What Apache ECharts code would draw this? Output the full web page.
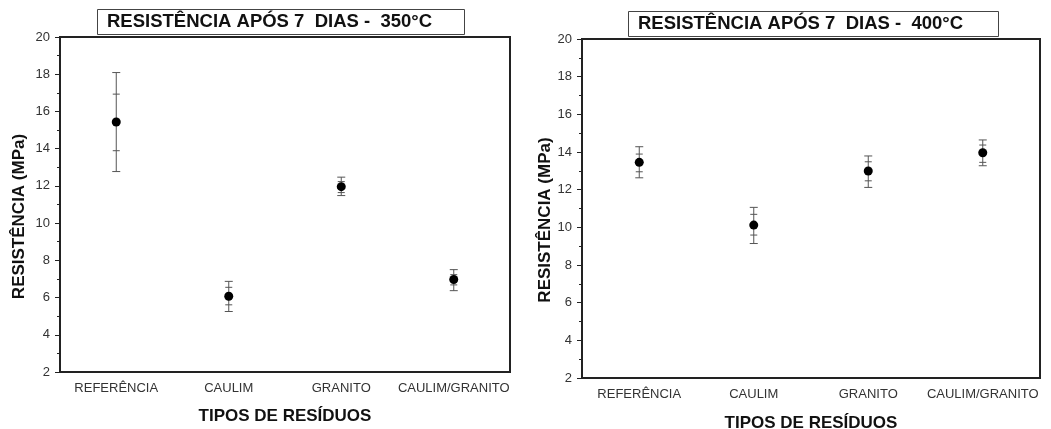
<!DOCTYPE html>
<html>
<head>
<meta charset="utf-8">
<script src="https://cdn.jsdelivr.net/npm/echarts@6/dist/echarts.min.js"></script>
<style>
html,body{margin:0;padding:0;background:#fff;}
#chart{width:1051px;height:429px;}
</style>
</head>
<body>
<div id="chart"></div>
<script>
// ---- data ----
const categories = ['REFERÊNCIA', 'CAULIM', 'GRANITO', 'CAULIM/GRANITO'];
const yTicks = { min: 2, max: 20, interval: 2 };

// 350 °C
const mean350 = [15.43, 6.07, 11.96, 6.97];
const innerLow350 = [13.89, 5.61, 11.64, 6.68];
const innerHigh350 = [16.93, 6.55, 12.23, 7.23];
const outerLow350 = [12.77, 5.25, 11.48, 6.37];
const outerHigh350 = [18.09, 6.87, 12.47, 7.50];

// 400 °C
const mean400 = [13.45, 10.12, 12.99, 13.96];
const innerLow400 = [12.95, 9.59, 12.47, 13.45];
const innerHigh400 = [13.89, 10.69, 13.48, 14.37];
const outerLow400 = [12.63, 9.14, 12.12, 13.27];
const outerHigh400 = [14.28, 11.06, 13.79, 14.64];

const titles = ['RESISTÊNCIA APÓS 7  DIAS -  350°C', 'RESISTÊNCIA APÓS 7  DIAS -  400°C'];
const xName = 'TIPOS DE RESÍDUOS';
const yName = 'RESISTÊNCIA (MPa)';

// ---- chart ----
const FONT = '"Liberation Sans", Arial, sans-serif';
const chart = echarts.init(document.getElementById('chart'), null, { renderer: 'canvas' });

function errData(lo, hi, ilo, ihi) {
  return categories.map((c, i) => [i, lo[i], hi[i], ilo[i], ihi[i]]);
}

function renderErr(params, api) {
  const i = api.value(0);
  const pLo = api.coord([i, api.value(1)]);
  const pHi = api.coord([i, api.value(2)]);
  const pILo = api.coord([i, api.value(3)]);
  const pIHi = api.coord([i, api.value(4)]);
  const x = pLo[0];
  const style = { stroke: '#555', lineWidth: 1 };
  const cap = 4, icap = 3.5;
  const ln = (x1, y1, x2, y2) => ({ type: 'line', shape: { x1, y1, x2, y2 }, style });
  return {
    type: 'group',
    children: [
      ln(x, pLo[1], x, pHi[1]),
      ln(x - cap, pLo[1], x + cap, pLo[1]),
      ln(x - cap, pHi[1], x + cap, pHi[1]),
      ln(x - icap, pILo[1], x + icap, pILo[1]),
      ln(x - icap, pIHi[1], x + icap, pIHi[1])
    ]
  };
}

function xAxis(gridIndex, nameGap) {
  return {
    type: 'category', gridIndex, data: categories, boundaryGap: true,
    name: xName, nameLocation: 'middle', nameGap,
    nameTextStyle: { fontFamily: FONT, fontWeight: 'bold', fontSize: 17, color: '#111' },
    axisLine: { lineStyle: { color: '#222', width: 2 } },
    axisTick: { alignWithLabel: true, length: 5, lineStyle: { color: '#222' } },
    axisLabel: { fontFamily: FONT, fontSize: 13, color: '#333', margin: 10, interval: 0 },
    splitLine: { show: false }
  };
}

function yAxis(gridIndex, nameGap, shift) {
  return {
    type: 'value', gridIndex, min: yTicks.min, max: yTicks.max, interval: yTicks.interval,
    name: yName, nameLocation: 'middle', nameGap,
    nameTextStyle: { fontFamily: FONT, fontWeight: 'bold', fontSize: 17, color: '#111', padding: [0, shift, 0, 0] },
    axisLine: { show: true, lineStyle: { color: '#222', width: 2 } },
    axisTick: { show: true, length: 5, lineStyle: { color: '#222' } },
    minorTick: { show: true, splitNumber: 2, length: 3, lineStyle: { color: '#222' } },
    axisLabel: { fontFamily: FONT, fontSize: 13, color: '#333', margin: 10 },
    splitLine: { show: false }
  };
}

const titleStyle = { fontFamily: FONT, fontWeight: 'bold', fontSize: 18.5, color: '#111', lineHeight: 18 };

const option = {
  backgroundColor: '#fff',
  animation: false,
  title: [
    { text: titles[0], left: 97, top: 10, padding: [3, 33, 3, 10], borderColor: '#444', borderWidth: 1, backgroundColor: '#fff', textStyle: titleStyle },
    { text: titles[1], left: 628, top: 12, padding: [3, 36, 3, 10], borderColor: '#444', borderWidth: 1, backgroundColor: '#fff', textStyle: titleStyle }
  ],
  grid: [
    { left: 60, right: 541, top: 37, bottom: 57, show: true, borderColor: '#222', borderWidth: 2, backgroundColor: 'transparent', outerBoundsMode: 'none', containLabel: false },
    { left: 582, right: 11, top: 39, bottom: 51, show: true, borderColor: '#222', borderWidth: 2, backgroundColor: 'transparent', outerBoundsMode: 'none', containLabel: false }
  ],
  xAxis: [xAxis(0, 36), xAxis(1, 37)],
  yAxis: [yAxis(0, 32, 24), yAxis(1, 27, 23)],
  series: [
    { type: 'custom', xAxisIndex: 0, yAxisIndex: 0, renderItem: renderErr,
      data: errData(outerLow350, outerHigh350, innerLow350, innerHigh350), z: 2 },
    { type: 'scatter', xAxisIndex: 0, yAxisIndex: 0, data: mean350, symbol: 'circle', symbolSize: 9,
      itemStyle: { color: '#000', opacity: 1 }, z: 3 },
    { type: 'custom', xAxisIndex: 1, yAxisIndex: 1, renderItem: renderErr,
      data: errData(outerLow400, outerHigh400, innerLow400, innerHigh400), z: 2 },
    { type: 'scatter', xAxisIndex: 1, yAxisIndex: 1, data: mean400, symbol: 'circle', symbolSize: 9,
      itemStyle: { color: '#000', opacity: 1 }, z: 3 }
  ]
};
chart.setOption(option);
</script>
</body>
</html>
